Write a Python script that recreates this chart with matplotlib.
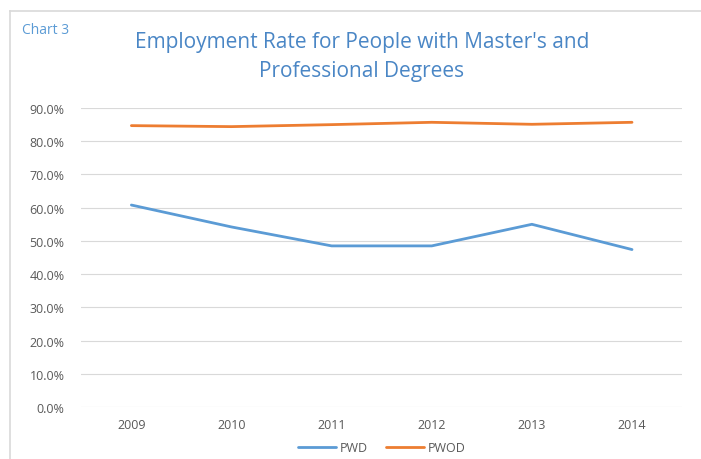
import matplotlib
matplotlib.use("Agg")
import matplotlib.pyplot as plt
from matplotlib.lines import Line2D
from matplotlib.ticker import FuncFormatter

years = ["2009", "2010", "2011", "2012", "2013", "2014"]
pwd = [60.8, 54.2, 48.5, 48.5, 55.0, 47.4]
pwod = [84.7, 84.4, 85.0, 85.7, 85.1, 85.7]
yticks = [0, 10, 20, 30, 40, 50, 60, 70, 80, 90]

plt.rcParams['font.family'] = ['Open Sans', 'DejaVu Sans']

fig = plt.figure(figsize=(7.01, 4.60), dpi=100)
top_y = 1 - 12/460
left_x = 10/701
fig.lines.append(Line2D([left_x, 1.0], [top_y, top_y], transform=fig.transFigure,
                        color='#d9d9d9', linewidth=1.2))
fig.lines.append(Line2D([left_x, left_x], [0, top_y], transform=fig.transFigure,
                        color='#d9d9d9', linewidth=1.2))

ax = fig.add_axes([0.116, 0.113, 0.857, 0.650])
x = list(range(len(years)))
ax.plot(x, pwd, color='#5B9BD5', linewidth=2.0, label='PWD', solid_capstyle='round')
ax.plot(x, pwod, color='#ED7D31', linewidth=2.0, label='PWOD', solid_capstyle='round')

ax.set_xlim(-0.5, len(years) - 0.5)
ax.set_ylim(0, 90)
ax.set_yticks(yticks)
ax.yaxis.set_major_formatter(FuncFormatter(lambda v, p: f"{v:.1f}%"))
ax.set_xticks(x)
ax.set_xticklabels(years)
ax.grid(axis='y', color='#d9d9d9', linewidth=0.8)
ax.set_axisbelow(True)
for s in ax.spines.values():
    s.set_visible(False)
ax.tick_params(axis='both', length=0, colors='#595959', labelsize=9)
ax.tick_params(axis='y', pad=12)
ax.tick_params(axis='x', pad=8)

fig.text(22/701, 1 - 30/460, "Chart 3", color='#5B9BD5', fontsize=10, va='center', ha='left')
fig.text(362/701, 1 - 57/460, "Employment Rate for People with Master's and\nProfessional Degrees",
         color='#4A86C5', fontsize=15, ha='center', va='center', linespacing=1.45)

ax.legend(loc='center', bbox_to_anchor=(0.5, -0.135),
          ncol=2, frameon=False, fontsize=9, labelcolor='#595959',
          handlelength=3.0, columnspacing=1.5, handletextpad=0.3)

fig.savefig("out.png", dpi=100)
